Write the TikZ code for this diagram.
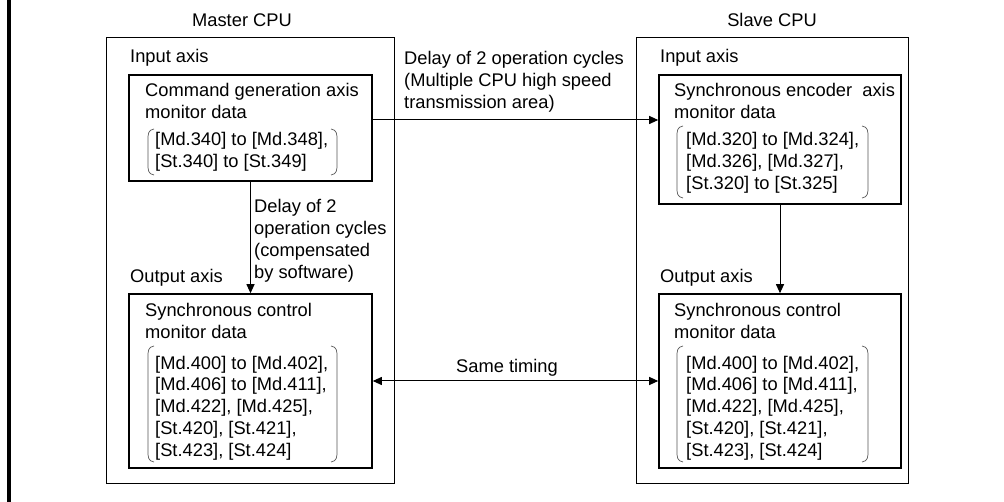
\documentclass[tikz,border=0pt]{standalone}
\usepackage{fontspec}
\setmainfont{Liberation Sans}
\usetikzlibrary{arrows.meta, positioning, calc}
\definecolor{LineBlack}{HTML}{000000}
\definecolor{BraceGray}{HTML}{555555}

% rounded bracket pair round a list of data names
\newcommand{\monbrace}[4]{%
  \draw[BraceGray, line width=0.7pt]
    (#1+6,#2) .. controls (#1,#2+1) and (#1,#2+5) .. (#1,#2+11)
    -- (#1,#4-11) .. controls (#1,#4-5) and (#1,#4-1) .. (#1+6,#4);
  \draw[BraceGray, line width=0.7pt]
    (#3-6,#2) .. controls (#3,#2+1) and (#3,#2+5) .. (#3,#2+11)
    -- (#3,#4-11) .. controls (#3,#4-5) and (#3,#4-1) .. (#3-6,#4);
}

\tikzset{
  cpubox/.style={draw=LineBlack, line width=1pt, inner sep=0pt},
  databox/.style={draw=LineBlack, line width=1.6pt, inner sep=0pt},
  lbl/.style={inner sep=0pt, anchor=base west, align=left,
    font=\fontsize{18.3}{21.8}\selectfont},
  flow/.style={-{Triangle[length=9pt,width=8pt]}, line width=1pt},
  bothflow/.style={{Triangle[length=9pt,width=8pt]}-{Triangle[length=9pt,width=8pt]}, line width=1pt}
}

\begin{document}
\begin{tikzpicture}[x=1pt, y=-1pt]
  \useasboundingbox (0,0) rectangle (1004,502);
  % thick bar on the left edge
  \fill[LineBlack] (7,0) rectangle (11,502);

  % CPU frames
  \node[cpubox, minimum width=288pt, minimum height=445pt] (master) at (250,260.5) {};
  \node[cpubox, minimum width=272pt, minimum height=445pt] (slave) at (772,260.5) {};
  \node[lbl, anchor=base] (mastertitle) at (242,27) {Master CPU};
  \node[lbl, anchor=base] (slavetitle) at (772,27) {Slave CPU};

  % master CPU (base of the last line given)
  \node[lbl] (minlbl) at (130,63) {Input axis};
  \node[databox, minimum width=243pt, minimum height=106pt] (cmdgen) at (250.5,128) {};
  \node[lbl] (cmdgentxt) at (145,118.8) {Command generation axis\\monitor data};
  \node[lbl] (cmdgenlist) at (155,167.8) {[Md.340] to [Md.348],\\{}[St.340] to [St.349]};
  \monbrace{148}{129}{337}{175}

  \node[lbl] (moutlbl) at (130,283) {Output axis};
  \node[databox, minimum width=243pt, minimum height=174pt] (msync) at (250.5,381) {};
  \node[lbl] (msynctxt) at (145,338.8) {Synchronous control\\monitor data};
  \node[lbl] (msynclist) at (155,456.2) {[Md.400] to [Md.402],\\{}[Md.406] to [Md.411],\\{}[Md.422], [Md.425],\\{}[St.420], [St.421],\\{}[St.423], [St.424]};
  \monbrace{148}{346}{337}{462}

  % slave CPU
  \node[lbl] (sinlbl) at (660,63) {Input axis};
  \node[databox, minimum width=242pt, minimum height=129pt] (senc) at (780,139.5) {};
  \node[lbl] (senctxt) at (674,118.8) {Synchronous encoder\ \ axis\\monitor data};
  \node[lbl] (senclist) at (686,189.6) {[Md.320] to [Md.324],\\{}[Md.326], [Md.327],\\{}[St.320] to [St.325]};
  \monbrace{677}{126}{868}{198}

  \node[lbl] (soutlbl) at (660,283) {Output axis};
  \node[databox, minimum width=242pt, minimum height=174pt] (ssync) at (780,381) {};
  \node[lbl] (ssynctxt) at (674,338.8) {Synchronous control\\monitor data};
  \node[lbl] (ssynclist) at (686,456.2) {[Md.400] to [Md.402],\\{}[Md.406] to [Md.411],\\{}[Md.422], [Md.425],\\{}[St.420], [St.421],\\{}[St.423], [St.424]};
  \monbrace{677}{346}{868}{462}

  % connectors
  \draw[flow] ([yshift=8pt]cmdgen.east) -- ([yshift=8pt]cmdgen.east -| senc.west);
  \node[lbl] (cpudelay) at (404,108.6) {Delay of 2 operation cycles\\(Multiple CPU high speed\\transmission area)};
  \draw[flow] (cmdgen.south) -- (msync.north);
  \node[lbl] (swdelay) at (254,278.4) {Delay of 2\\operation cycles\\(compensated\\by software)};
  \draw[flow] (senc.south) -- (ssync.north);
  \draw[bothflow] (msync.east) -- (ssync.west);
  \node[lbl, anchor=base] (sametiming) at (507,373) {Same timing};
\end{tikzpicture}
\end{document}
